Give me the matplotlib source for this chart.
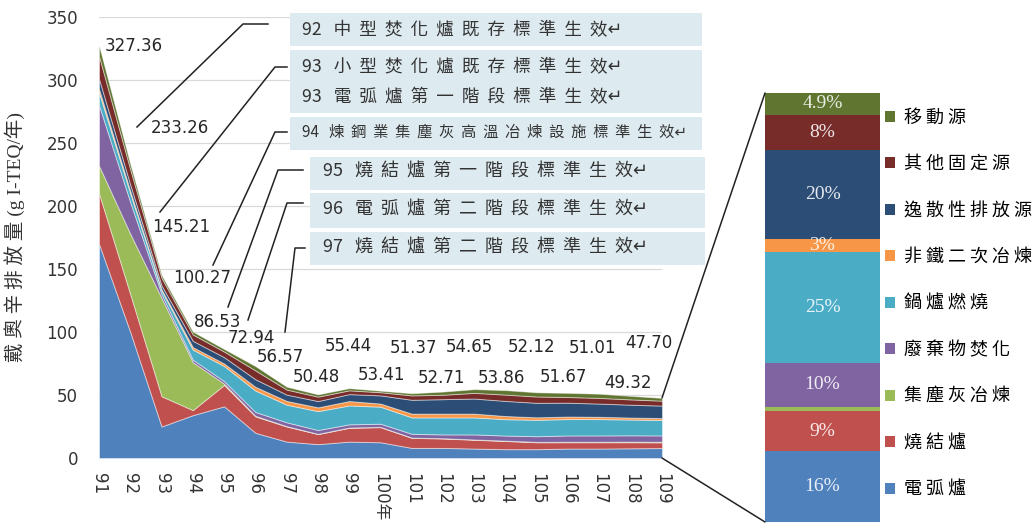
import matplotlib
matplotlib.use('Agg')
import matplotlib.pyplot as plt
from matplotlib.patches import Rectangle, Patch, ConnectionPatch
from matplotlib.lines import Line2D

plt.rcParams['font.family'] = ['DejaVu Sans', 'Noto Sans CJK TC']

# 民國年
years = list(range(91, 110))
year_labels = [str(y) if y != 100 else '100年' for y in years]

# 總排放量 (g I-TEQ/年)
totals = [327.36, 233.26, 145.21, 100.27, 86.53, 72.94, 56.57, 50.48, 55.44, 53.41,
          51.37, 52.71, 54.65, 53.86, 52.12, 51.67, 51.01, 49.32, 47.70]

# 各排放源 (由下往上堆疊)
arc_furnace = [170, 100, 25, 34, 41, 20, 13, 11, 13, 12.5, 8, 8, 7.5, 7, 7, 7.5, 7.5, 7.7, 7.9]
sinter = [40, 30, 24, 4, 17, 13, 12, 8, 11, 12, 8, 7.5, 7, 6.5, 5.5, 5, 5, 4.8, 4.5]
dust_smelt = [22, 48, 78, 38, 1, 0.5, 0.3, 0.2, 0.2, 0.2, 0.2, 0.2, 0.2, 0.3, 0.3, 0.4, 0.4, 0.5, 0.5]
incinerator = [48, 25, 3, 2, 2, 3, 3, 3, 2.5, 2.5, 3, 3, 4, 4, 4.5, 5, 5, 5, 5]
boiler = [10, 7, 3, 8, 12, 17, 14, 15, 15, 13.5, 13, 13.5, 13.5, 13, 13, 13, 13, 12.5, 12.3]
nonferrous = [3, 2, 1, 2, 2, 3, 3, 3, 3.5, 2.5, 3, 3, 3, 2.5, 2, 2, 1.8, 1.6, 1.5]
fugitive = [8, 5, 3, 5, 5, 6, 5, 5, 5.5, 6.5, 11, 11.5, 12, 12, 11.5, 11, 10.5, 10.2, 9.9]
other_fixed = [18, 12, 6, 5, 4.5, 7, 4, 3.5, 3, 2.5, 3.5, 3.5, 4.5, 5, 5, 4.5, 4.5, 4.2, 3.9]
mobile = [8.36, 4.26, 2.21, 2.27, 2.03, 3.44, 2.27, 1.78, 1.74, 1.21, 1.67, 2.51, 2.95, 3.56,
          3.32, 3.27, 3.31, 2.82, 2.2]

sources = ['電弧爐', '燒結爐', '集塵灰冶煉', '廢棄物焚化', '鍋爐燃燒',
           '非鐵二次冶煉', '逸散性排放源', '其他固定源', '移動源']
# 109年各排放源佔比 (%)
share_109 = [16, 9, 1, 10, 25, 3, 20, 8, 4.9]

# 法規生效事件
events = [
    ['92 中型焚化爐既存標準生效'],
    ['93 小型焚化爐既存標準生效', '93 電弧爐第一階段標準生效'],
    ['94 煉鋼業集塵灰高溫冶煉設施標準生效'],
    ['95 燒結爐第一階段標準生效'],
    ['96 電弧爐第二階段標準生效'],
    ['97 燒結爐第二階段標準生效'],
]

colors = ['#4F81BD', '#C0504D', '#9BBB59', '#8064A2', '#4BACC6',
          '#F79646', '#2C4D75', '#772C2A', '#5F7530']

W, H = 1034, 530


def fx(x):
    return x / W


def fy(y):
    return 1 - y / H


def spaced(s):
    # 中文字之間加空白
    head, body = s.split(' ', 1)
    return head + '   ' + '  '.join(body) + '↵'


fig = plt.figure(figsize=(W / 100, H / 100), dpi=100)
fig.patch.set_facecolor('white')

ax = fig.add_axes([fx(99), fy(458), (662 - 99) / W, (458 - 17) / H])
series = [arc_furnace, sinter, dust_smelt, incinerator, boiler,
          nonferrous, fugitive, other_fixed, mobile]
polys = ax.stackplot(years, *series, colors=colors, zorder=2)
for p in polys:
    p.set_edgecolor((1, 1, 1, 0.45))
    p.set_linewidth(0.7)

ax.set_xlim(91, 109)
ax.set_ylim(0, 350)
ax.set_yticks(range(0, 351, 50))
ax.set_xticks(years)
ax.set_xticklabels(year_labels, rotation=-90, va='top', ha='center')
ax.tick_params(axis='both', length=0, labelsize=12, colors='#333333')
ax.tick_params(axis='y', pad=15)
ax.tick_params(axis='x', pad=11)
ax.grid(axis='y', color='#D9D9D9', linewidth=0.9, zorder=0)
ax.set_axisbelow(True)
for s in ax.spines.values():
    s.set_visible(False)

ax.set_ylabel('戴 奧 辛 排 放 量 (g I-TEQ/年)', fontsize=14,
              family=['Liberation Serif', 'Noto Sans CJK TC'], color='#333333')
ax.yaxis.set_label_coords(-0.131, 0.5)

# 總量數值標籤 (位移, 像素)
label_offsets = [(6, 0), (20, 36), (-9, 48), (-20, 54), (-30, 27), (-28, 28), (-30, 30),
                 (-25, 17), (-24, 42), (-23, 16), (-22, 45), (-25, 14), (-29, 42),
                 (-28, 12), (-29, 45), (-28, 16), (-31, 46), (-26, 13), (-37, 55)]
for yr, tot, (dx, dy) in zip(years, totals, label_offsets):
    ax.annotate(f'{tot:.2f}', xy=(yr, tot), xytext=(dx, dy), textcoords='offset pixels',
                ha='left', va='center', fontsize=12, color='#262626', zorder=5)

# 事件文字框
box_rects = [(290, 13, 702, 46), (290, 50, 702, 113), (290, 117, 702, 150),
             (310, 157, 705, 190), (310, 193, 705, 228), (310, 232, 705, 265)]
text_rows = [[30], [67, 97], [132], [172], [210], [248]]
text_left = [302, 302, 302, 323, 323, 323]
text_size = [12.7, 12.7, 11, 13, 13, 13]
for (x0, y0, x1, y1), rows, tx, fs, lines in zip(box_rects, text_rows, text_left,
                                                 text_size, events):
    fig.patches.append(Rectangle((fx(x0), fy(y1)), (x1 - x0) / W, (y1 - y0) / H,
                                 transform=fig.transFigure, facecolor='#DDEAF0',
                                 edgecolor='none', zorder=1))
    for ty, line in zip(rows, lines):
        fig.text(fx(tx), fy(ty), spaced(line), ha='left', va='center', fontsize=fs,
                 color='#333333', family=['Noto Sans CJK TC', 'DejaVu Sans'], zorder=2)

# 引線
leaders = [[(268, 24), (243, 24), (137, 127)],
           [(287, 67), (275, 67), (160, 212)],
           [(287, 132), (275, 132), (213, 265)],
           [(303, 170), (278, 170), (228, 307)],
           [(303, 203), (287, 203), (248, 320)],
           [(305, 248), (295, 248), (285, 332)]]
for pts in leaders:
    fig.add_artist(Line2D([fx(p[0]) for p in pts], [fy(p[1]) for p in pts],
                          transform=fig.transFigure, color='#222222', linewidth=1.1))

# 109年組成堆疊長條
axb = fig.add_axes([fx(765), fy(522), (880 - 765) / W, (522 - 93) / H])
bottom = 0
for v, c in zip(share_109, colors):
    axb.bar(0, v, bottom=bottom, width=1, color=c, edgecolor='none')
    if v >= 3:
        axb.text(0, bottom + v / 2, f'{v:g}%', ha='center', va='center', fontsize=14,
                 family='Liberation Serif', color=(1, 1, 1, 0.88))
    bottom += v
axb.set_xlim(-0.5, 0.5)
axb.set_ylim(0, bottom)
axb.axis('off')

handles = [Patch(facecolor=c, edgecolor='none') for c in colors][::-1]
labels = [' '.join(s) for s in sources][::-1]
axb.legend(handles, labels, loc='center left', bbox_to_anchor=(1.0, 0.509), frameon=False,
           handlelength=0.55, handleheight=0.55, handletextpad=0.5,
           labelspacing=1.58, borderpad=0.1, borderaxespad=0.2,
           prop={'family': ['Noto Sans CJK TC'], 'size': 13})

for ya, yb in [(totals[-1], bottom), (0, 0)]:
    con = ConnectionPatch(xyA=(years[-1], ya), coordsA=ax.transData,
                          xyB=(-0.5, yb), coordsB=axb.transData,
                          color='#222222', linewidth=1.1)
    fig.add_artist(con)

fig.savefig('out.png', dpi=100, facecolor='white')
